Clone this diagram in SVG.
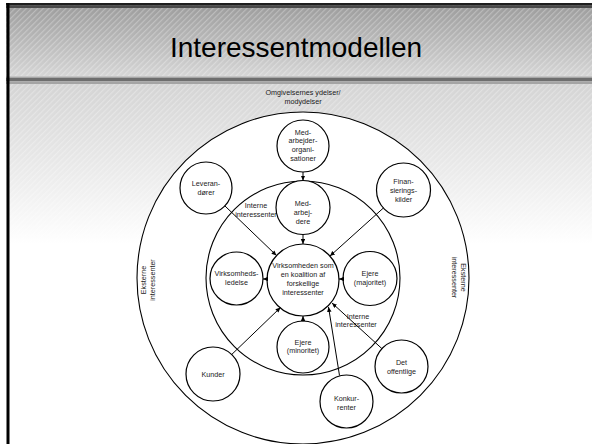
<svg xmlns="http://www.w3.org/2000/svg" width="592" height="444" viewBox="0 0 592 444">
<defs>
<linearGradient id="gTitle" x1="0" y1="0" x2="0" y2="1">
<stop offset="0" stop-color="#9a9a9a"/>
<stop offset="1" stop-color="#d6d6d6"/>
</linearGradient>
<linearGradient id="gBody" x1="0" y1="0" x2="0" y2="1">
<stop offset="0" stop-color="#d4d4d4"/>
<stop offset="0.55" stop-color="#ebebeb"/>
<stop offset="1" stop-color="#ffffff"/>
</linearGradient>
<pattern id="hatch" width="4" height="4" patternUnits="userSpaceOnUse" patternTransform="rotate(45)">
<rect x="0" y="0" width="1.2" height="4" fill="#ffffff" fill-opacity="0.28"/>
</pattern>
<marker id="arr" markerWidth="6" markerHeight="5" refX="5" refY="2.25" orient="auto" markerUnits="userSpaceOnUse">
<path d="M0,0 L5,2.25 L0,4.5 z" fill="#000"/>
</marker>
</defs>
<style>
.t{font-family:"Liberation Sans",Arial,sans-serif;font-size:7.2px;fill:#1a1a1a;text-anchor:middle}
.c{fill:#fff;stroke:#000;stroke-width:1.2}
.ring{fill:#fff;stroke:#000;stroke-width:1.1}
.l{stroke:#000;stroke-width:1;fill:none;marker-end:url(#arr)}
</style>
<rect x="0" y="0" width="592" height="444" fill="#fff"/>
<!-- slide background -->
<g id="background">
<rect x="6" y="3" width="586" height="74" fill="url(#gTitle)"/>
<rect x="6" y="3" width="586" height="74" fill="url(#hatch)"/>
<rect x="6" y="84" width="586" height="160" fill="url(#gBody)"/>
<rect x="6" y="84" width="586" height="160" fill="url(#hatch)"/>
<rect x="6" y="76" width="586" height="1.5" fill="#c4c4c4"/>
<rect x="6" y="77.5" width="586" height="4" fill="#6e6e6e"/>
<rect x="6" y="81.5" width="586" height="2.5" fill="#a4a4a4"/>
<rect x="6" y="3" width="586" height="2.5" fill="#1e1e1e"/>
<rect x="6" y="5.5" width="586" height="2.5" fill="#4a4a4a"/>
<rect x="6.5" y="3" width="3" height="441" fill="#000"/>
<text x="296" y="57" font-family="Liberation Sans, Arial, sans-serif" font-size="28" text-anchor="middle" fill="#000">Interessentmodellen</text>
</g>
<g id="outer-ring">
<circle class="ring" cx="303" cy="278" r="166"/>
</g>
<g id="inner-ring">
<circle class="ring" cx="303" cy="278" r="97"/>
</g>
<g id="labels">
<text class="t" x="303" y="95"><tspan x="303" y="95">Omgivelsernes ydelser/</tspan><tspan x="303" y="103.5">modydelser</tspan></text>
<text class="t" x="256" y="208"><tspan x="256" y="208">Interne</tspan><tspan x="256" y="217">interessenter</tspan></text>
<text class="t" x="358" y="318.5"><tspan x="358" y="318.5">Interne</tspan><tspan x="356" y="327">interessenter</tspan></text>
<text class="t" transform="translate(145.5,280) rotate(-90)"><tspan x="0" y="0">Eksterne</tspan><tspan x="0" y="9">interessenter</tspan></text>
<text class="t" transform="translate(460.5,277.5) rotate(90)"><tspan x="0" y="0">Eksterne</tspan><tspan x="0" y="9">interessenter</tspan></text>
</g>
<g id="node-center">
<circle class="c" cx="303" cy="280" r="36"/>
<text class="t"><tspan x="303" y="267.5">Virksomheden som</tspan><tspan x="303" y="276.5">en koalition af</tspan><tspan x="303" y="285.5">forskellige</tspan><tspan x="303" y="294.5">interessenter</tspan></text>
</g>
<g id="node-medarbejderorg">
<circle class="c" cx="303" cy="146" r="26"/>
<text class="t"><tspan x="303" y="134.5">Med-</tspan><tspan x="303" y="143.2">arbejder-</tspan><tspan x="303" y="151.9">organi-</tspan><tspan x="303" y="160.6">sationer</tspan></text>
</g>
<g id="node-medarbejdere">
<circle class="c" cx="303" cy="207.5" r="27"/>
<text class="t"><tspan x="303" y="205.5">Med-</tspan><tspan x="303" y="214.5">arbej-</tspan><tspan x="303" y="223.5">dere</tspan></text>
</g>
<g id="node-leverandoerer">
<circle class="c" cx="206" cy="188" r="26"/>
<text class="t"><tspan x="206" y="185.5">Leveran-</tspan><tspan x="206" y="194.5">dører</tspan></text>
</g>
<g id="node-finansieringskilder">
<circle class="c" cx="403.5" cy="190" r="27"/>
<text class="t"><tspan x="403.5" y="183.5">Finan-</tspan><tspan x="403.5" y="192.5">sierings-</tspan><tspan x="403.5" y="201.5">kilder</tspan></text>
</g>
<g id="node-virksomhedsledelse">
<circle class="c" cx="236.5" cy="278.5" r="26.5"/>
<text class="t"><tspan x="236.5" y="275.5">Virksomheds-</tspan><tspan x="236.5" y="285">ledelse</tspan></text>
</g>
<g id="node-ejere-majoritet">
<circle class="c" cx="370" cy="278.5" r="27"/>
<text class="t"><tspan x="370" y="275.5">Ejere</tspan><tspan x="370" y="284.5">(majoritet)</tspan></text>
</g>
<g id="node-ejere-minoritet">
<circle class="c" cx="303" cy="347" r="26"/>
<text class="t"><tspan x="303" y="344.5">Ejere</tspan><tspan x="303" y="353">(minoritet)</tspan></text>
</g>
<g id="node-kunder">
<circle class="c" cx="213" cy="374" r="27"/>
<text class="t" x="213" y="376.5">Kunder</text>
</g>
<g id="node-konkurrenter">
<circle class="c" cx="346.5" cy="401.5" r="26.5"/>
<text class="t"><tspan x="346.5" y="400.5">Konkur-</tspan><tspan x="346.5" y="409.5">renter</tspan></text>
</g>
<g id="node-det-offentlige">
<circle class="c" cx="401.5" cy="366.5" r="26.5"/>
<text class="t"><tspan x="401.5" y="364.5">Det</tspan><tspan x="401.5" y="373.5">offentlige</tspan></text>
</g>
<g id="connectors">
<line class="l" x1="303" y1="172" x2="303" y2="180.5"/>
<line class="l" x1="303" y1="234.5" x2="303" y2="244"/>
<line class="l" x1="224.9" y1="205.9" x2="276.5" y2="255.5"/>
<line class="l" x1="383.4" y1="208" x2="330" y2="256"/>
<line class="l" x1="268" y1="279" x2="263" y2="279"/>
<line class="l" x1="344" y1="279" x2="339" y2="279"/>
<line class="l" x1="303" y1="321.5" x2="303" y2="316"/>
<line class="l" x1="231.7" y1="354.5" x2="280.5" y2="307.5"/>
<line class="l" x1="339.5" y1="375.5" x2="328.5" y2="307"/>
<line class="l" x1="381.9" y1="348.6" x2="332" y2="303"/>
</g>
</svg>
